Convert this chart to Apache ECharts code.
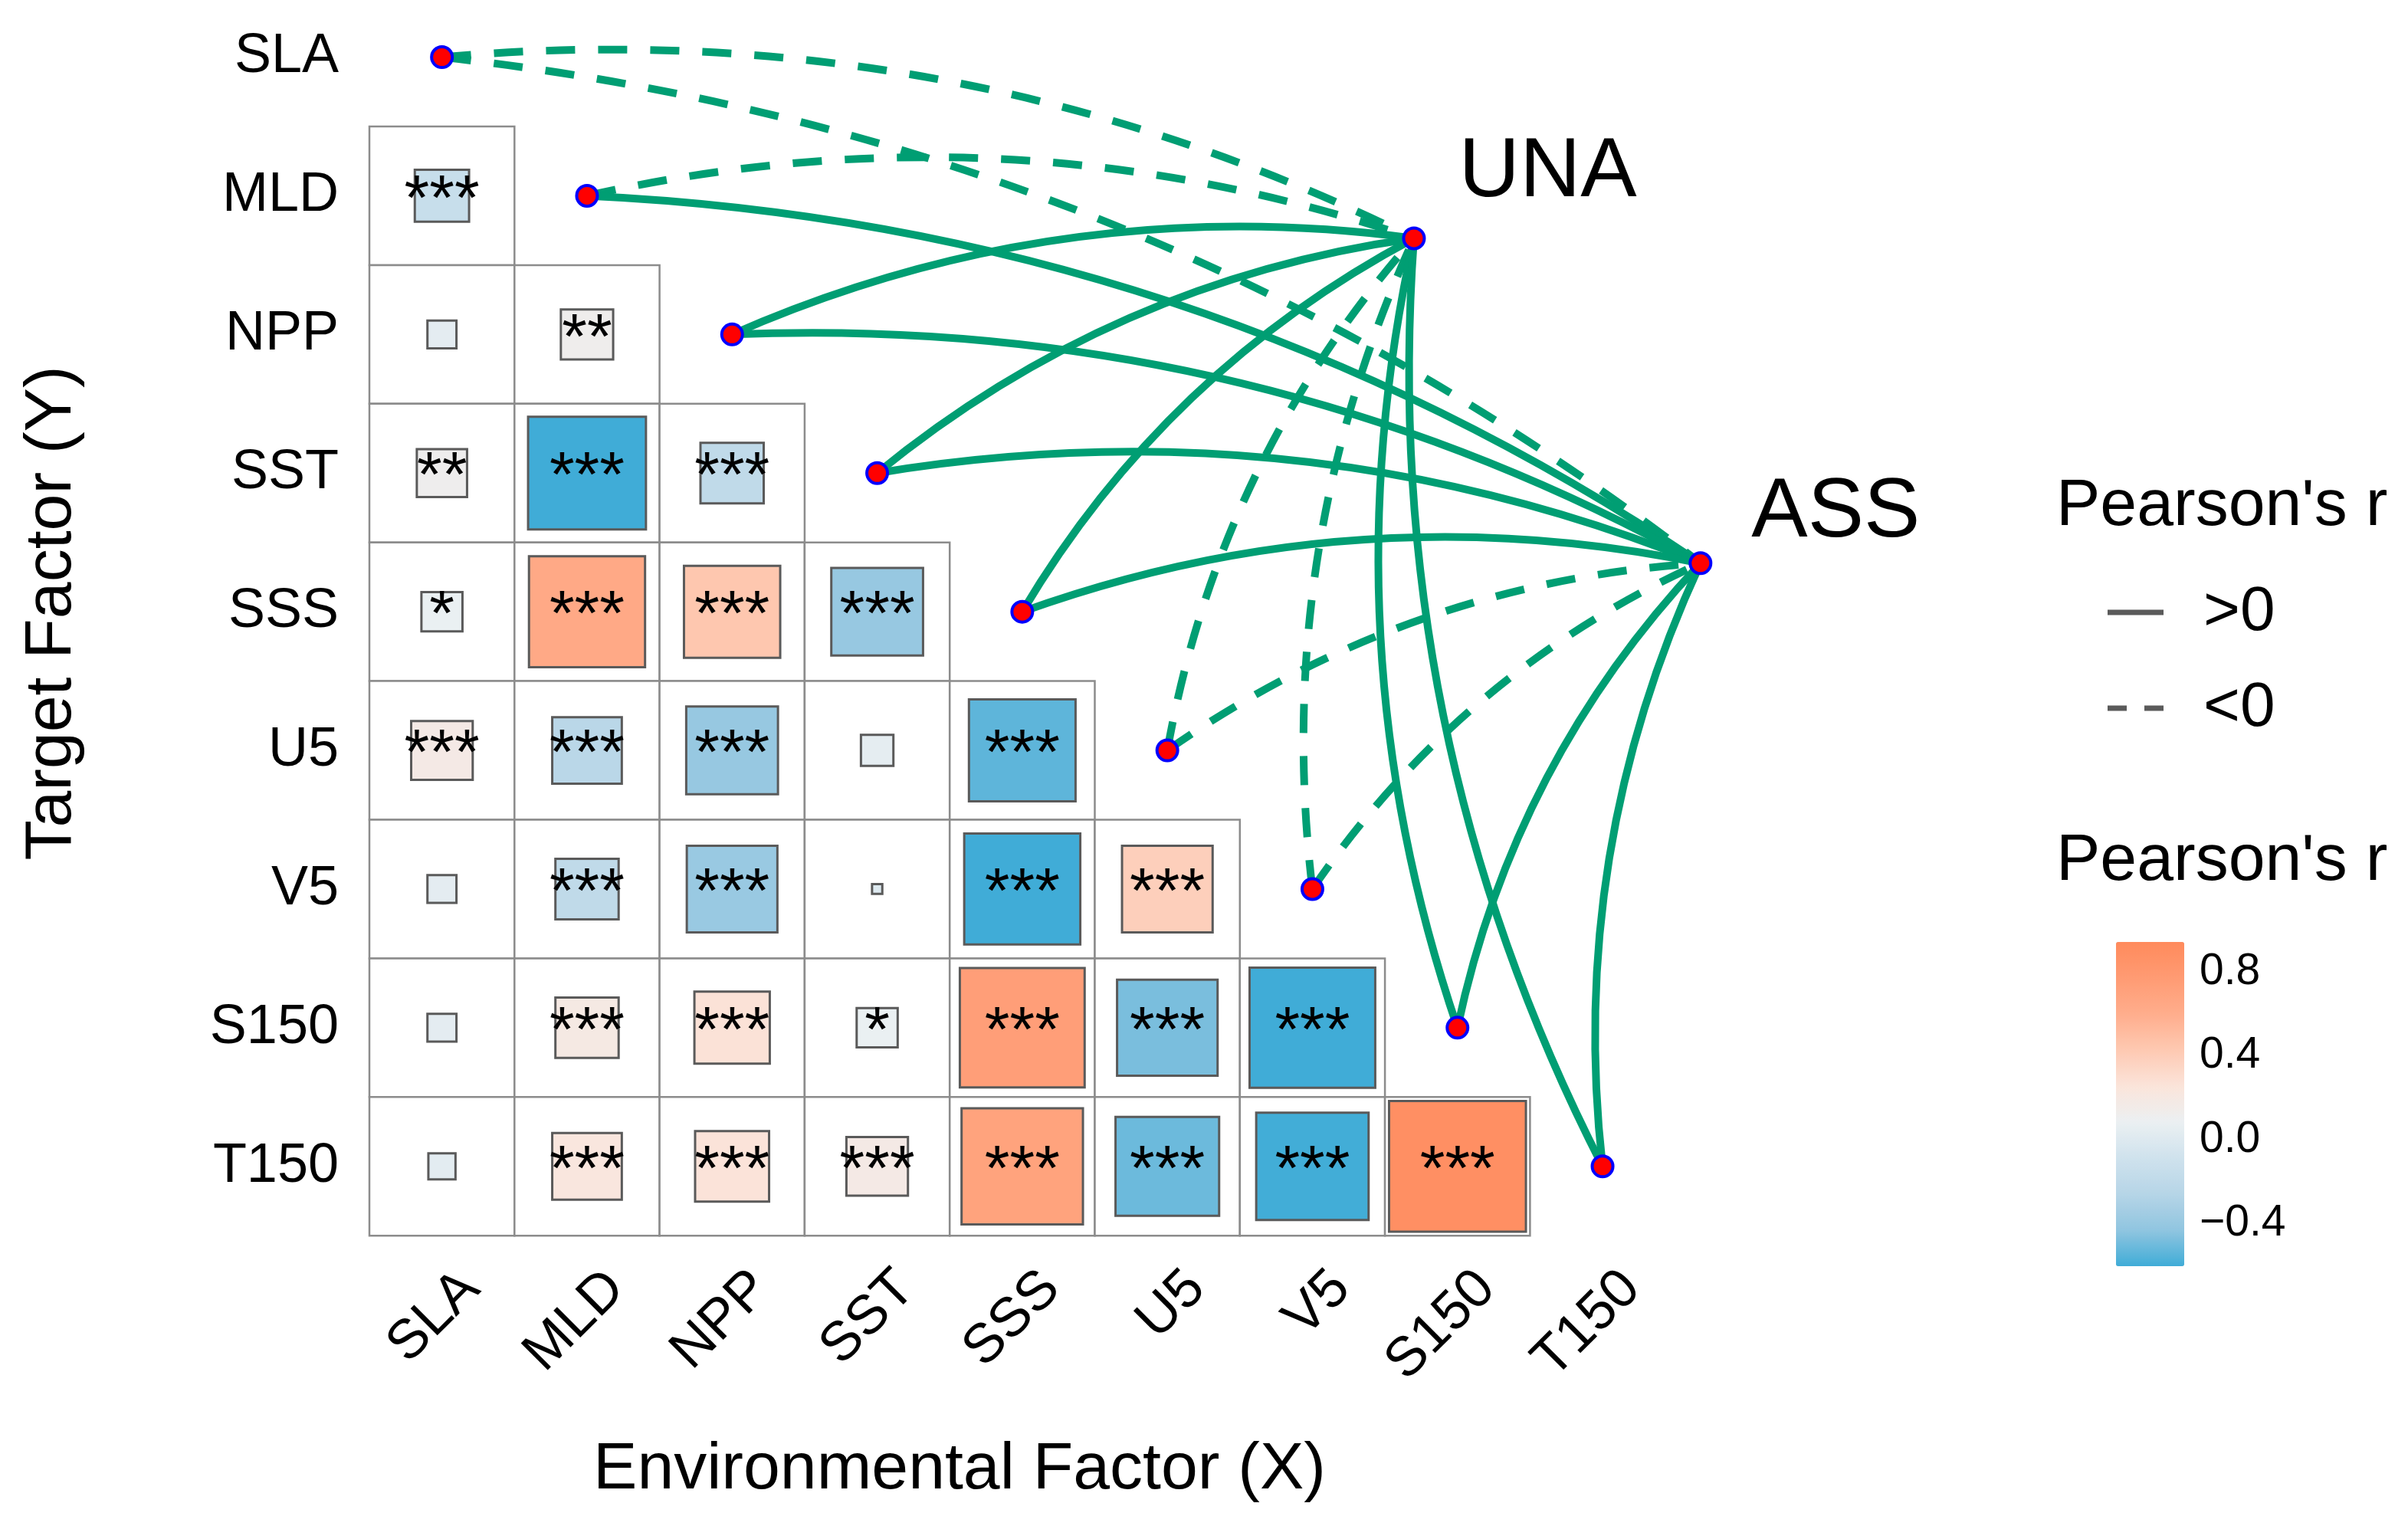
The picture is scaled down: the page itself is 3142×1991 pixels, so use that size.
<!DOCTYPE html>
<html>
<head>
<meta charset="utf-8">
<script src="https://cdn.jsdelivr.net/npm/echarts@6/dist/echarts.min.js"></script>
<style>
html,body{margin:0;padding:0;background:#ffffff;}
#chart{width:3142px;height:1991px;}
</style>
</head>
<body>
<div id="chart"></div>
<script>
// ---------------- DATA ----------------
const factors = ['SLA', 'MLD', 'NPP', 'SST', 'SSS', 'U5', 'V5', 'S150', 'T150'];

// Pearson's r, row = target factor (Y), columns = environmental factors (X) left of the diagonal
const rRows = [
  [],
  [-0.14],
  [0.04, 0.13],
  [0.12, -0.66, -0.19],
  [0.08, 0.64, 0.44, -0.40],
  [0.18, -0.23, -0.40, 0.05, -0.54],
  [0.04, -0.19, -0.39, 0.005, -0.64, 0.39],
  [0.04, 0.19, 0.27, 0.08, 0.74, -0.48, -0.75],
  [0.035, 0.23, 0.26, 0.18, 0.70, -0.51, -0.60, 0.89]
];

// significance marks
const starRows = [
  [],
  ['***'],
  ['', '**'],
  ['**', '***', '***'],
  ['*', '***', '***', '***'],
  ['***', '***', '***', '', '***'],
  ['', '***', '***', '', '***', '***'],
  ['', '***', '***', '*', '***', '***', '***'],
  ['', '***', '***', '***', '***', '***', '***', '***']
];

// links from each factor to the two response nodes (sign of Pearson's r)
const nodeNames = ['UNA', 'ASS'];
const nodeX = [6.70, 8.675];
const nodeY = [1.307, 3.65];
const linkSignUNA = ['<0', '<0', '>0', '>0', '>0', '<0', '<0', '>0', '>0'];
const linkSignASS = ['<0', '>0', '>0', '>0', '>0', '<0', '<0', '>0', '>0'];

// colour bar
const colorMin = -0.604;
const colorMax = 0.944;
const colorTicks = [-0.4, 0.0, 0.4, 0.8];
const signLabels = ['>0', '<0'];

// ---------------- BUILD ----------------
const FONT = '"Liberation Sans", Arial, Helvetica, sans-serif';
const GRID = { left: 482, top: -15.9, width: 1703.7, height: 1628.1 };
const LINK_COLOR = '#009E73';
const DASH = [38, 30];
const RAMP = ['#40ACD7', '#90C5E0', '#B6D5E7', '#CFE2ED', '#EBF0F2',
              '#FBE4DA', '#FEC9B2', '#FFAD8C', '#FF9B73', '#FF8A5C'];

const cellData = [];
const cellStars = [];
for (let i = 1; i < factors.length; i++) {
  for (let j = 0; j < i; j++) {
    cellData.push([j, i, rRows[i][j]]);
    cellStars.push(starRows[i][j]);
  }
}

const diagData = factors.map((f, i) => ({ name: f, value: [i, i] }));

const nodeLabelOffsets = [[38, -85], [46, -65]];
const nodeData = nodeNames.map((n, k) => ({
  name: n,
  value: [nodeX[k], nodeY[k]],
  label: { offset: nodeLabelOffsets[k] }
}));

const linkData = [];
[linkSignUNA, linkSignASS].forEach((signs, k) => {
  signs.forEach((s, i) => {
    linkData.push({
      coords: [[i, i], [nodeX[k], nodeY[k]]],
      lineStyle: { type: s === '>0' ? 'solid' : DASH }
    });
  });
});

function fmtTick(v) {
  const a = Math.abs(v).toFixed(1);
  return v < -1e-9 ? '\u2212' + a : a;
}

const hiddenValue = (extra) => Object.assign({ type: 'value', show: false }, extra || {});

const option = {
  backgroundColor: '#ffffff',
  animation: false,
  textStyle: { fontFamily: FONT },
  grid: [
    Object.assign({ outerBoundsMode: 'none', containLabel: false }, GRID),
    Object.assign({ outerBoundsMode: 'none', containLabel: false }, GRID),
    Object.assign({ outerBoundsMode: 'none', containLabel: false }, GRID, { left: GRID.left + 38 }),
    { outerBoundsMode: 'none', containLabel: false, left: 2761, top: 1229, width: 89, height: 423 }
  ],
  xAxis: [
    hiddenValue({ gridIndex: 0, min: 0, max: 1 }),
    hiddenValue({ gridIndex: 1, min: -0.5, max: 8.5 }),
    {
      type: 'category', gridIndex: 2, data: factors, position: 'bottom',
      axisLine: { show: false }, axisTick: { show: false }, splitLine: { show: false },
      axisLabel: { interval: 0, rotate: 45, margin: 58, fontSize: 72, color: '#000', fontFamily: FONT }
    },
    hiddenValue({ gridIndex: 3, min: 0, max: 1 })
  ],
  yAxis: [
    {
      type: 'category', gridIndex: 0, data: factors, inverse: true,
      axisLine: { show: false }, axisTick: { show: false }, splitLine: { show: false },
      axisLabel: { interval: 0, margin: 40, fontSize: 72, color: '#000', fontFamily: FONT }
    },
    hiddenValue({ gridIndex: 1, min: -0.5, max: 8.5, inverse: true }),
    hiddenValue({ gridIndex: 2, min: 0, max: 1 }),
    {
      type: 'value', gridIndex: 3, min: colorMin, max: colorMax, position: 'right',
      axisLine: { show: false }, axisTick: { show: false, customValues: colorTicks }, splitLine: { show: false },
      axisLabel: { customValues: colorTicks, formatter: fmtTick, margin: 20, fontSize: 57, color: '#000', fontFamily: FONT }
    }
  ],
  visualMap: {
    type: 'continuous',
    min: colorMin, max: colorMax,
    dimension: 2, seriesIndex: 0,
    inRange: { color: RAMP },
    calculable: false, hoverLink: false,
    show: true, left: 2761, top: 1229, itemWidth: 89, itemHeight: 423, padding: 0,
    text: null, showLabel: false
  },
  series: [
    {
      type: 'custom', name: 'cells', xAxisIndex: 1, yAxisIndex: 1, z: 2, silent: true,
      data: cellData,
      renderItem: function (params, api) {
        const c = api.coord([api.value(0), api.value(1)]);
        const s = api.size([1, 1]);
        const k = Math.sqrt(Math.abs(api.value(2)));
        const w = s[0] * k, h = s[1] * k;
        const children = [
          { type: 'rect', shape: { x: c[0] - s[0] / 2, y: c[1] - s[1] / 2, width: s[0], height: s[1] },
            style: { fill: '#ffffff', stroke: '#8c8c8c', lineWidth: 2.5 } },
          { type: 'rect', shape: { x: c[0] - w / 2, y: c[1] - h / 2, width: w, height: h },
            style: { fill: api.visual('color'), stroke: '#5a5a5a', lineWidth: 3 } }
        ];
        const st = cellStars[params.dataIndex];
        if (st) {
          children.push({ type: 'text', x: c[0], y: c[1] + 8,
            style: { text: st, fill: '#000', fontSize: 84, fontFamily: FONT, align: 'center', verticalAlign: 'middle' } });
        }
        return { type: 'group', children: children };
      }
    },
    {
      type: 'lines', name: 'links', coordinateSystem: 'cartesian2d', xAxisIndex: 1, yAxisIndex: 1,
      z: 3, silent: true, clip: false, polyline: false,
      lineStyle: { color: LINK_COLOR, width: 10, curveness: 0.14, opacity: 1 },
      data: linkData
    },
    {
      type: 'scatter', name: 'factors', xAxisIndex: 1, yAxisIndex: 1, z: 4, silent: true, clip: false,
      symbol: 'circle', symbolSize: 27,
      itemStyle: { color: '#FF0000', borderColor: '#0000FF', borderWidth: 4, opacity: 1 },
      data: diagData
    },
    {
      type: 'scatter', name: 'nodes', xAxisIndex: 1, yAxisIndex: 1, z: 4, silent: true, clip: false,
      symbol: 'circle', symbolSize: 27,
      itemStyle: { color: '#FF0000', borderColor: '#0000FF', borderWidth: 4, opacity: 1 },
      label: { show: true, position: 'right', distance: 5, formatter: '{b}', fontSize: 110, color: '#000', fontFamily: FONT },
      data: nodeData
    }
  ],
  graphic: [
    { type: 'text', x: 68, y: 800, rotation: Math.PI / 2,
      style: { text: 'Target Factor (Y)', fontSize: 86, fontFamily: FONT, fill: '#000', align: 'center', verticalAlign: 'middle' } },
    { type: 'text', x: 1252, y: 1918,
      style: { text: 'Environmental Factor (X)', fontSize: 86, fontFamily: FONT, fill: '#000', align: 'center', verticalAlign: 'middle' } },
    { type: 'text', x: 2683, y: 661,
      style: { text: "Pearson's r", fontSize: 86, fontFamily: FONT, fill: '#000', align: 'left', verticalAlign: 'middle' } },
    { type: 'line', shape: { x1: 2750, y1: 799, x2: 2823, y2: 799 },
      style: { stroke: '#5a5a5a', lineWidth: 7 } },
    { type: 'text', x: 2875, y: 799,
      style: { text: signLabels[0], fontSize: 82, fontFamily: FONT, fill: '#000', align: 'left', verticalAlign: 'middle' } },
    { type: 'line', shape: { x1: 2750, y1: 924, x2: 2823, y2: 924 },
      style: { stroke: '#5a5a5a', lineWidth: 7, lineDash: [25, 23] } },
    { type: 'text', x: 2875, y: 924,
      style: { text: signLabels[1], fontSize: 82, fontFamily: FONT, fill: '#000', align: 'left', verticalAlign: 'middle' } },
    { type: 'text', x: 2683, y: 1124,
      style: { text: "Pearson's r", fontSize: 86, fontFamily: FONT, fill: '#000', align: 'left', verticalAlign: 'middle' } }
  ]
};

const chart = echarts.init(document.getElementById('chart'), null, { renderer: 'canvas', width: 3142, height: 1991 });
chart.setOption(option);
</script>
</body>
</html>
